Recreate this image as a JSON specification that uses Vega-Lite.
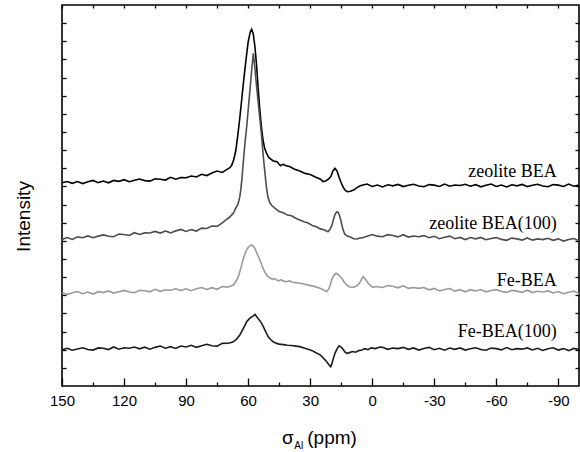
{
  "$schema": "https://vega.github.io/schema/vega-lite/v6.json",
  "width": 517,
  "height": 381,
  "autosize": "none",
  "padding": {"left": 62, "top": 5, "right": 1, "bottom": 66},
  "background": "white",
  "config": {
    "view": {"stroke": "#000", "strokeWidth": 1.6},
    "axis": {"grid": false, "domain": false, "tickColor": "#000", "tickWidth": 1.3, "labelFont": "Liberation Sans", "labelFontSize": 15, "labelColor": "#000", "titleFont": "Liberation Sans", "titleFontSize": 19, "titleFontWeight": "normal", "titleColor": "#000"}
  },
  "datasets": {
    "spec": [
      {"s":"BEA","x":150,"y":11.20},{"s":"BEA","x":147.5,"y":11.27},{"s":"BEA","x":145,"y":11.17},{"s":"BEA","x":142.5,"y":11.27},{"s":"BEA","x":140,"y":11.16},{"s":"BEA","x":137.5,"y":11.26},{"s":"BEA","x":135,"y":11.33},{"s":"BEA","x":132.5,"y":11.21},{"s":"BEA","x":130,"y":11.30},{"s":"BEA","x":127.5,"y":11.20},{"s":"BEA","x":125,"y":11.33},{"s":"BEA","x":122.5,"y":11.28},{"s":"BEA","x":120,"y":11.37},{"s":"BEA","x":117.5,"y":11.26},{"s":"BEA","x":115,"y":11.34},{"s":"BEA","x":112.5,"y":11.41},{"s":"BEA","x":110,"y":11.32},{"s":"BEA","x":107.5,"y":11.29},{"s":"BEA","x":105,"y":11.42},{"s":"BEA","x":102.5,"y":11.40},{"s":"BEA","x":100,"y":11.35},{"s":"BEA","x":97.5,"y":11.50},{"s":"BEA","x":95,"y":11.40},{"s":"BEA","x":92.5,"y":11.49},{"s":"BEA","x":90,"y":11.48},{"s":"BEA","x":87.5,"y":11.57},{"s":"BEA","x":85,"y":11.52},{"s":"BEA","x":82.5,"y":11.67},{"s":"BEA","x":80,"y":11.60},{"s":"BEA","x":77.5,"y":11.74},{"s":"BEA","x":75,"y":11.85},{"s":"BEA","x":72.5,"y":11.77},{"s":"BEA","x":70,"y":11.95},
      {"s":"BEA","x":69,"y":12.02},{"s":"BEA","x":68,"y":12.15},{"s":"BEA","x":67,"y":12.45},{"s":"BEA","x":66,"y":12.95},{"s":"BEA","x":65,"y":13.8},{"s":"BEA","x":64,"y":14.8},{"s":"BEA","x":63,"y":15.9},{"s":"BEA","x":62,"y":17.0},{"s":"BEA","x":61,"y":18.0},{"s":"BEA","x":60,"y":18.95},{"s":"BEA","x":59,"y":19.5},{"s":"BEA","x":58.3,"y":19.66},{"s":"BEA","x":57.5,"y":19.4},{"s":"BEA","x":56.7,"y":18.7},{"s":"BEA","x":56,"y":17.8},{"s":"BEA","x":55.2,"y":16.5},{"s":"BEA","x":54.4,"y":15.3},{"s":"BEA","x":53.6,"y":14.3},{"s":"BEA","x":52.8,"y":13.56},{"s":"BEA","x":52,"y":13.1},{"s":"BEA","x":51,"y":12.8},{"s":"BEA","x":50,"y":12.6},{"s":"BEA","x":49,"y":12.5},{"s":"BEA","x":48,"y":12.42},{"s":"BEA","x":47,"y":12.38},{"s":"BEA","x":46,"y":12.36},{"s":"BEA","x":45,"y":12.22},{"s":"BEA","x":44.3,"y":12.14},{"s":"BEA","x":43.5,"y":12.2},{"s":"BEA","x":42.8,"y":12.22},{"s":"BEA","x":42,"y":12.15},{"s":"BEA","x":40,"y":12.1},{"s":"BEA","x":37.5,"y":11.95},{"s":"BEA","x":35,"y":11.85},{"s":"BEA","x":32.5,"y":11.72},{"s":"BEA","x":30,"y":11.66},{"s":"BEA","x":27.5,"y":11.52},{"s":"BEA","x":25,"y":11.40},{"s":"BEA","x":23.8,"y":11.27},{"s":"BEA","x":22.5,"y":11.30},{"s":"BEA","x":21,"y":11.42},{"s":"BEA","x":20,"y":11.55},{"s":"BEA","x":19,"y":11.85},{"s":"BEA","x":18,"y":12.0},{"s":"BEA","x":17,"y":11.85},{"s":"BEA","x":16,"y":11.5},{"s":"BEA","x":15,"y":11.2},{"s":"BEA","x":14,"y":10.95},{"s":"BEA","x":13,"y":10.78},{"s":"BEA","x":12,"y":10.71},{"s":"BEA","x":10.5,"y":10.73},{"s":"BEA","x":9,"y":10.80},{"s":"BEA","x":7.5,"y":10.92},{"s":"BEA","x":6,"y":11.02},
      {"s":"BEA","x":5,"y":11.07},{"s":"BEA","x":2.5,"y":11.13},{"s":"BEA","x":0,"y":11.00},{"s":"BEA","x":-2.5,"y":11.08},{"s":"BEA","x":-5,"y":10.97},{"s":"BEA","x":-7.5,"y":11.09},{"s":"BEA","x":-10,"y":11.03},{"s":"BEA","x":-12.5,"y":11.11},{"s":"BEA","x":-15,"y":10.99},{"s":"BEA","x":-17.5,"y":11.06},{"s":"BEA","x":-20,"y":11.12},{"s":"BEA","x":-22.5,"y":11.02},{"s":"BEA","x":-25,"y":10.98},{"s":"BEA","x":-27.5,"y":11.10},{"s":"BEA","x":-30,"y":11.07},{"s":"BEA","x":-32.5,"y":11.00},{"s":"BEA","x":-35,"y":11.13},{"s":"BEA","x":-37.5,"y":11.01},{"s":"BEA","x":-40,"y":11.08},{"s":"BEA","x":-42.5,"y":11.05},{"s":"BEA","x":-45,"y":11.12},{"s":"BEA","x":-47.5,"y":11.01},{"s":"BEA","x":-50,"y":11.10},{"s":"BEA","x":-52.5,"y":10.98},{"s":"BEA","x":-55,"y":11.07},{"s":"BEA","x":-57.5,"y":11.13},{"s":"BEA","x":-60,"y":11.00},{"s":"BEA","x":-62.5,"y":11.08},{"s":"BEA","x":-65,"y":10.97},{"s":"BEA","x":-67.5,"y":11.09},{"s":"BEA","x":-70,"y":11.03},{"s":"BEA","x":-72.5,"y":11.11},{"s":"BEA","x":-75,"y":10.99},{"s":"BEA","x":-77.5,"y":11.06},{"s":"BEA","x":-80,"y":11.12},{"s":"BEA","x":-82.5,"y":11.02},{"s":"BEA","x":-85,"y":10.98},{"s":"BEA","x":-87.5,"y":11.10},{"s":"BEA","x":-90,"y":11.07},{"s":"BEA","x":-92.5,"y":11.00},{"s":"BEA","x":-95,"y":11.13},{"s":"BEA","x":-97.5,"y":11.01},{"s":"BEA","x":-100,"y":11.08},

      {"s":"BEA100","x":150,"y":8.08},{"s":"BEA100","x":147.5,"y":8.18},{"s":"BEA100","x":145,"y":8.08},{"s":"BEA100","x":142.5,"y":8.22},{"s":"BEA100","x":140,"y":8.17},{"s":"BEA100","x":137.5,"y":8.27},{"s":"BEA100","x":135,"y":8.17},{"s":"BEA100","x":132.5,"y":8.26},{"s":"BEA100","x":130,"y":8.33},{"s":"BEA100","x":127.5,"y":8.25},{"s":"BEA100","x":125,"y":8.23},{"s":"BEA100","x":122.5,"y":8.37},{"s":"BEA100","x":120,"y":8.35},{"s":"BEA100","x":117.5,"y":8.30},{"s":"BEA100","x":115,"y":8.45},{"s":"BEA100","x":112.5,"y":8.35},{"s":"BEA100","x":110,"y":8.44},{"s":"BEA100","x":107.5,"y":8.43},{"s":"BEA100","x":105,"y":8.52},{"s":"BEA100","x":102.5,"y":8.43},{"s":"BEA100","x":100,"y":8.54},{"s":"BEA100","x":97.5,"y":8.44},{"s":"BEA100","x":95,"y":8.55},{"s":"BEA100","x":92.5,"y":8.63},{"s":"BEA100","x":90,"y":8.52},{"s":"BEA100","x":87.5,"y":8.62},{"s":"BEA100","x":85,"y":8.54},{"s":"BEA100","x":82.5,"y":8.70},{"s":"BEA100","x":80,"y":8.68},{"s":"BEA100","x":77.5,"y":8.82},{"s":"BEA100","x":75,"y":8.80},{"s":"BEA100","x":72.5,"y":8.99},{"s":"BEA100","x":70,"y":9.22},
      {"s":"BEA100","x":69,"y":9.30},{"s":"BEA100","x":68,"y":9.42},{"s":"BEA100","x":67,"y":9.55},{"s":"BEA100","x":66,"y":9.80},{"s":"BEA100","x":65,"y":10.0},{"s":"BEA100","x":64.5,"y":10.2},{"s":"BEA100","x":64,"y":10.45},{"s":"BEA100","x":63.5,"y":10.85},{"s":"BEA100","x":63,"y":11.4},{"s":"BEA100","x":62.3,"y":12.4},{"s":"BEA100","x":61.5,"y":13.4},{"s":"BEA100","x":60.7,"y":14.29},{"s":"BEA100","x":59.9,"y":15.3},{"s":"BEA100","x":59.1,"y":16.32},{"s":"BEA100","x":58.3,"y":17.4},{"s":"BEA100","x":57.5,"y":18.34},{"s":"BEA100","x":56.7,"y":17.5},{"s":"BEA100","x":55.9,"y":16.5},{"s":"BEA100","x":55.1,"y":15.6},{"s":"BEA100","x":54.3,"y":14.7},{"s":"BEA100","x":53.5,"y":13.8},{"s":"BEA100","x":52.7,"y":12.7},{"s":"BEA100","x":52,"y":11.9},{"s":"BEA100","x":51.2,"y":11.0},{"s":"BEA100","x":50.4,"y":10.4},{"s":"BEA100","x":49.5,"y":10.1},{"s":"BEA100","x":48.5,"y":9.95},{"s":"BEA100","x":47.5,"y":9.85},{"s":"BEA100","x":46.2,"y":9.72},{"s":"BEA100","x":45,"y":9.62},{"s":"BEA100","x":43,"y":9.55},{"s":"BEA100","x":41,"y":9.42},{"s":"BEA100","x":39,"y":9.38},{"s":"BEA100","x":37,"y":9.25},{"s":"BEA100","x":35,"y":9.15},{"s":"BEA100","x":33,"y":9.05},{"s":"BEA100","x":31,"y":8.98},{"s":"BEA100","x":29,"y":8.85},{"s":"BEA100","x":27,"y":8.78},{"s":"BEA100","x":25,"y":8.66},{"s":"BEA100","x":23,"y":8.60},{"s":"BEA100","x":21.4,"y":8.50},{"s":"BEA100","x":20.5,"y":8.62},{"s":"BEA100","x":19.5,"y":8.85},{"s":"BEA100","x":18.8,"y":9.15},{"s":"BEA100","x":18,"y":9.45},{"s":"BEA100","x":17.2,"y":9.60},{"s":"BEA100","x":16.5,"y":9.58},{"s":"BEA100","x":15.8,"y":9.40},{"s":"BEA100","x":15,"y":9.05},{"s":"BEA100","x":14.2,"y":8.65},{"s":"BEA100","x":13.3,"y":8.38},{"s":"BEA100","x":12.3,"y":8.28},{"s":"BEA100","x":11,"y":8.22},{"s":"BEA100","x":10,"y":8.18},{"s":"BEA100","x":9,"y":8.12},{"s":"BEA100","x":7.5,"y":8.10},{"s":"BEA100","x":6,"y":8.16},
      {"s":"BEA100","x":5,"y":8.16},{"s":"BEA100","x":2.5,"y":8.26},{"s":"BEA100","x":0,"y":8.35},{"s":"BEA100","x":-2.5,"y":8.26},{"s":"BEA100","x":-5,"y":8.23},{"s":"BEA100","x":-7.5,"y":8.34},{"s":"BEA100","x":-10,"y":8.30},{"s":"BEA100","x":-12.5,"y":8.22},{"s":"BEA100","x":-15,"y":8.34},{"s":"BEA100","x":-17.5,"y":8.21},{"s":"BEA100","x":-20,"y":8.27},{"s":"BEA100","x":-22.5,"y":8.23},{"s":"BEA100","x":-25,"y":8.29},{"s":"BEA100","x":-27.5,"y":8.17},{"s":"BEA100","x":-30,"y":8.25},{"s":"BEA100","x":-32.5,"y":8.12},{"s":"BEA100","x":-35,"y":8.20},{"s":"BEA100","x":-37.5,"y":8.26},{"s":"BEA100","x":-40,"y":8.12},{"s":"BEA100","x":-42.5,"y":8.19},{"s":"BEA100","x":-45,"y":8.07},{"s":"BEA100","x":-47.5,"y":8.18},{"s":"BEA100","x":-50,"y":8.11},{"s":"BEA100","x":-52.5,"y":8.19},{"s":"BEA100","x":-55,"y":8.06},{"s":"BEA100","x":-57.5,"y":8.13},{"s":"BEA100","x":-60,"y":8.18},{"s":"BEA100","x":-62.5,"y":8.08},{"s":"BEA100","x":-65,"y":8.03},{"s":"BEA100","x":-67.5,"y":8.15},{"s":"BEA100","x":-70,"y":8.11},{"s":"BEA100","x":-72.5,"y":8.04},{"s":"BEA100","x":-75,"y":8.16},{"s":"BEA100","x":-77.5,"y":8.04},{"s":"BEA100","x":-80,"y":8.11},{"s":"BEA100","x":-82.5,"y":8.07},{"s":"BEA100","x":-85,"y":8.14},{"s":"BEA100","x":-87.5,"y":8.03},{"s":"BEA100","x":-90,"y":8.11},{"s":"BEA100","x":-92.5,"y":7.99},{"s":"BEA100","x":-95,"y":8.08},{"s":"BEA100","x":-97.5,"y":8.13},{"s":"BEA100","x":-100,"y":8.00},

      {"s":"FeBEA","x":150,"y":5.16},{"s":"FeBEA","x":147.5,"y":5.05},{"s":"FeBEA","x":145,"y":5.14},{"s":"FeBEA","x":142.5,"y":5.21},{"s":"FeBEA","x":140,"y":5.09},{"s":"FeBEA","x":137.5,"y":5.18},{"s":"FeBEA","x":135,"y":5.07},{"s":"FeBEA","x":132.5,"y":5.20},{"s":"FeBEA","x":130,"y":5.15},{"s":"FeBEA","x":127.5,"y":5.24},{"s":"FeBEA","x":125,"y":5.12},{"s":"FeBEA","x":122.5,"y":5.20},{"s":"FeBEA","x":120,"y":5.27},{"s":"FeBEA","x":117.5,"y":5.18},{"s":"FeBEA","x":115,"y":5.14},{"s":"FeBEA","x":112.5,"y":5.27},{"s":"FeBEA","x":110,"y":5.25},{"s":"FeBEA","x":107.5,"y":5.19},{"s":"FeBEA","x":105,"y":5.33},{"s":"FeBEA","x":102.5,"y":5.22},{"s":"FeBEA","x":100,"y":5.30},{"s":"FeBEA","x":97.5,"y":5.28},{"s":"FeBEA","x":95,"y":5.36},{"s":"FeBEA","x":92.5,"y":5.26},{"s":"FeBEA","x":90,"y":5.36},{"s":"FeBEA","x":87.5,"y":5.25},{"s":"FeBEA","x":85,"y":5.36},{"s":"FeBEA","x":82.5,"y":5.43},{"s":"FeBEA","x":80,"y":5.32},{"s":"FeBEA","x":77.5,"y":5.42},{"s":"FeBEA","x":75,"y":5.33},{"s":"FeBEA","x":72.5,"y":5.48},{"s":"FeBEA","x":70,"y":5.45},
      {"s":"FeBEA","x":68.5,"y":5.50},{"s":"FeBEA","x":67,"y":5.58},{"s":"FeBEA","x":65.5,"y":5.84},{"s":"FeBEA","x":64.5,"y":6.10},{"s":"FeBEA","x":63.5,"y":6.50},{"s":"FeBEA","x":62.5,"y":6.95},{"s":"FeBEA","x":61.5,"y":7.30},{"s":"FeBEA","x":60.5,"y":7.55},{"s":"FeBEA","x":59.5,"y":7.70},{"s":"FeBEA","x":58.3,"y":7.77},{"s":"FeBEA","x":57.3,"y":7.70},{"s":"FeBEA","x":56.5,"y":7.52},{"s":"FeBEA","x":55.5,"y":7.25},{"s":"FeBEA","x":54.3,"y":6.95},{"s":"FeBEA","x":53.5,"y":6.70},{"s":"FeBEA","x":52.8,"y":6.50},{"s":"FeBEA","x":51.9,"y":6.28},{"s":"FeBEA","x":51,"y":6.12},{"s":"FeBEA","x":50,"y":6.00},{"s":"FeBEA","x":49,"y":5.92},{"s":"FeBEA","x":48,"y":5.88},{"s":"FeBEA","x":47,"y":5.92},{"s":"FeBEA","x":46.2,"y":5.84},{"s":"FeBEA","x":45,"y":5.80},{"s":"FeBEA","x":44,"y":5.86},{"s":"FeBEA","x":43,"y":5.78},{"s":"FeBEA","x":41.5,"y":5.75},{"s":"FeBEA","x":40,"y":5.79},{"s":"FeBEA","x":38.5,"y":5.72},{"s":"FeBEA","x":37,"y":5.70},{"s":"FeBEA","x":35,"y":5.66},{"s":"FeBEA","x":33,"y":5.62},{"s":"FeBEA","x":31,"y":5.56},{"s":"FeBEA","x":29,"y":5.52},{"s":"FeBEA","x":27,"y":5.45},{"s":"FeBEA","x":25.2,"y":5.39},{"s":"FeBEA","x":23.5,"y":5.30},{"s":"FeBEA","x":22,"y":5.20},{"s":"FeBEA","x":21,"y":5.35},{"s":"FeBEA","x":20.2,"y":5.60},{"s":"FeBEA","x":19.5,"y":5.88},{"s":"FeBEA","x":18.5,"y":6.10},{"s":"FeBEA","x":17.5,"y":6.21},{"s":"FeBEA","x":16.5,"y":6.15},{"s":"FeBEA","x":15.5,"y":6.02},{"s":"FeBEA","x":14.7,"y":5.94},{"s":"FeBEA","x":13.5,"y":5.72},{"s":"FeBEA","x":12.3,"y":5.57},{"s":"FeBEA","x":11,"y":5.46},{"s":"FeBEA","x":9.1,"y":5.44},{"s":"FeBEA","x":7.8,"y":5.50},{"s":"FeBEA","x":6.2,"y":5.66},{"s":"FeBEA","x":5.2,"y":5.88},{"s":"FeBEA","x":4.3,"y":6.03},{"s":"FeBEA","x":3.4,"y":5.90},{"s":"FeBEA","x":1.9,"y":5.66},{"s":"FeBEA","x":0.5,"y":5.50},{"s":"FeBEA","x":-0.5,"y":5.44},{"s":"FeBEA","x":-2,"y":5.48},
      {"s":"FeBEA","x":-5,"y":5.43},{"s":"FeBEA","x":-7.5,"y":5.54},{"s":"FeBEA","x":-10,"y":5.50},{"s":"FeBEA","x":-12.5,"y":5.41},{"s":"FeBEA","x":-15,"y":5.52},{"s":"FeBEA","x":-17.5,"y":5.38},{"s":"FeBEA","x":-20,"y":5.43},{"s":"FeBEA","x":-22.5,"y":5.38},{"s":"FeBEA","x":-25,"y":5.43},{"s":"FeBEA","x":-27.5,"y":5.30},{"s":"FeBEA","x":-30,"y":5.38},{"s":"FeBEA","x":-32.5,"y":5.24},{"s":"FeBEA","x":-35,"y":5.32},{"s":"FeBEA","x":-37.5,"y":5.37},{"s":"FeBEA","x":-40,"y":5.23},{"s":"FeBEA","x":-42.5,"y":5.31},{"s":"FeBEA","x":-45,"y":5.19},{"s":"FeBEA","x":-47.5,"y":5.31},{"s":"FeBEA","x":-50,"y":5.24},{"s":"FeBEA","x":-52.5,"y":5.32},{"s":"FeBEA","x":-55,"y":5.19},{"s":"FeBEA","x":-57.5,"y":5.26},{"s":"FeBEA","x":-60,"y":5.31},{"s":"FeBEA","x":-62.5,"y":5.21},{"s":"FeBEA","x":-65,"y":5.16},{"s":"FeBEA","x":-67.5,"y":5.27},{"s":"FeBEA","x":-70,"y":5.23},{"s":"FeBEA","x":-72.5,"y":5.16},{"s":"FeBEA","x":-75,"y":5.28},{"s":"FeBEA","x":-77.5,"y":5.15},{"s":"FeBEA","x":-80,"y":5.22},{"s":"FeBEA","x":-82.5,"y":5.18},{"s":"FeBEA","x":-85,"y":5.24},{"s":"FeBEA","x":-87.5,"y":5.13},{"s":"FeBEA","x":-90,"y":5.21},{"s":"FeBEA","x":-92.5,"y":5.09},{"s":"FeBEA","x":-95,"y":5.17},{"s":"FeBEA","x":-97.5,"y":5.23},{"s":"FeBEA","x":-100,"y":5.09},

      {"s":"FeBEA100","x":150,"y":2.00},{"s":"FeBEA100","x":147.5,"y":2.08},{"s":"FeBEA100","x":145,"y":1.97},{"s":"FeBEA100","x":142.5,"y":2.04},{"s":"FeBEA100","x":140,"y":2.11},{"s":"FeBEA100","x":137.5,"y":2.01},{"s":"FeBEA100","x":135,"y":1.98},{"s":"FeBEA100","x":132.5,"y":2.10},{"s":"FeBEA100","x":130,"y":2.08},{"s":"FeBEA100","x":127.5,"y":2.01},{"s":"FeBEA100","x":125,"y":2.15},{"s":"FeBEA100","x":122.5,"y":2.03},{"s":"FeBEA100","x":120,"y":2.11},{"s":"FeBEA100","x":117.5,"y":2.08},{"s":"FeBEA100","x":115,"y":2.15},{"s":"FeBEA100","x":112.5,"y":2.05},{"s":"FeBEA100","x":110,"y":2.14},{"s":"FeBEA100","x":107.5,"y":2.03},{"s":"FeBEA100","x":105,"y":2.13},{"s":"FeBEA100","x":102.5,"y":2.20},{"s":"FeBEA100","x":100,"y":2.08},{"s":"FeBEA100","x":97.5,"y":2.17},{"s":"FeBEA100","x":95,"y":2.07},{"s":"FeBEA100","x":92.5,"y":2.20},{"s":"FeBEA100","x":90,"y":2.15},{"s":"FeBEA100","x":87.5,"y":2.24},{"s":"FeBEA100","x":85,"y":2.13},{"s":"FeBEA100","x":82.5,"y":2.22},{"s":"FeBEA100","x":80,"y":2.30},{"s":"FeBEA100","x":77.5,"y":2.22},{"s":"FeBEA100","x":75,"y":2.20},{"s":"FeBEA100","x":72.5,"y":2.35},{"s":"FeBEA100","x":70,"y":2.36},
      {"s":"FeBEA100","x":68.5,"y":2.38},{"s":"FeBEA100","x":67,"y":2.45},{"s":"FeBEA100","x":65.5,"y":2.60},{"s":"FeBEA100","x":64,"y":2.81},{"s":"FeBEA100","x":63,"y":3.02},{"s":"FeBEA100","x":62,"y":3.25},{"s":"FeBEA100","x":60.7,"y":3.54},{"s":"FeBEA100","x":59.5,"y":3.70},{"s":"FeBEA100","x":58.6,"y":3.78},{"s":"FeBEA100","x":57.5,"y":3.86},{"s":"FeBEA100","x":56.7,"y":3.94},{"s":"FeBEA100","x":56,"y":3.84},{"s":"FeBEA100","x":55.2,"y":3.72},{"s":"FeBEA100","x":54.3,"y":3.60},{"s":"FeBEA100","x":53.4,"y":3.44},{"s":"FeBEA100","x":52.6,"y":3.26},{"s":"FeBEA100","x":51.8,"y":3.07},{"s":"FeBEA100","x":51,"y":2.88},{"s":"FeBEA100","x":50.2,"y":2.70},{"s":"FeBEA100","x":49,"y":2.55},{"s":"FeBEA100","x":48,"y":2.45},{"s":"FeBEA100","x":47,"y":2.38},{"s":"FeBEA100","x":46.2,"y":2.35},{"s":"FeBEA100","x":45,"y":2.31},{"s":"FeBEA100","x":43,"y":2.28},{"s":"FeBEA100","x":41,"y":2.25},{"s":"FeBEA100","x":39,"y":2.23},{"s":"FeBEA100","x":37,"y":2.20},{"s":"FeBEA100","x":35,"y":2.17},{"s":"FeBEA100","x":33,"y":2.10},{"s":"FeBEA100","x":31,"y":2.03},{"s":"FeBEA100","x":29,"y":1.95},{"s":"FeBEA100","x":27,"y":1.82},{"s":"FeBEA100","x":25,"y":1.70},{"s":"FeBEA100","x":23.5,"y":1.52},{"s":"FeBEA100","x":22,"y":1.34},{"s":"FeBEA100","x":21,"y":1.18},{"s":"FeBEA100","x":20.1,"y":1.06},{"s":"FeBEA100","x":19.5,"y":1.22},{"s":"FeBEA100","x":19,"y":1.43},{"s":"FeBEA100","x":18.4,"y":1.66},{"s":"FeBEA100","x":18,"y":1.80},{"s":"FeBEA100","x":17,"y":2.05},{"s":"FeBEA100","x":16,"y":2.22},{"s":"FeBEA100","x":15,"y":2.15},{"s":"FeBEA100","x":14.1,"y":2.02},{"s":"FeBEA100","x":13.2,"y":1.88},{"s":"FeBEA100","x":12.3,"y":1.80},{"s":"FeBEA100","x":11,"y":1.84},{"s":"FeBEA100","x":9.5,"y":1.90},{"s":"FeBEA100","x":8,"y":1.86},{"s":"FeBEA100","x":6.5,"y":1.95},{"s":"FeBEA100","x":5,"y":1.98},{"s":"FeBEA100","x":3.5,"y":2.06},{"s":"FeBEA100","x":2,"y":2.00},{"s":"FeBEA100","x":0.5,"y":2.10},{"s":"FeBEA100","x":-1.5,"y":2.06},{"s":"FeBEA100","x":-3.8,"y":2.15},
      {"s":"FeBEA100","x":-5,"y":2.14},{"s":"FeBEA100","x":-7.5,"y":2.02},{"s":"FeBEA100","x":-10,"y":2.09},{"s":"FeBEA100","x":-12.5,"y":2.06},{"s":"FeBEA100","x":-15,"y":2.13},{"s":"FeBEA100","x":-17.5,"y":2.02},{"s":"FeBEA100","x":-20,"y":2.10},{"s":"FeBEA100","x":-22.5,"y":1.98},{"s":"FeBEA100","x":-25,"y":2.07},{"s":"FeBEA100","x":-27.5,"y":2.13},{"s":"FeBEA100","x":-30,"y":2.00},{"s":"FeBEA100","x":-32.5,"y":2.08},{"s":"FeBEA100","x":-35,"y":1.97},{"s":"FeBEA100","x":-37.5,"y":2.09},{"s":"FeBEA100","x":-40,"y":2.02},{"s":"FeBEA100","x":-42.5,"y":2.10},{"s":"FeBEA100","x":-45,"y":1.98},{"s":"FeBEA100","x":-47.5,"y":2.05},{"s":"FeBEA100","x":-50,"y":2.11},{"s":"FeBEA100","x":-52.5,"y":2.01},{"s":"FeBEA100","x":-55,"y":1.97},{"s":"FeBEA100","x":-57.5,"y":2.09},{"s":"FeBEA100","x":-60,"y":2.06},{"s":"FeBEA100","x":-62.5,"y":1.99},{"s":"FeBEA100","x":-65,"y":2.12},{"s":"FeBEA100","x":-67.5,"y":2.00},{"s":"FeBEA100","x":-70,"y":2.06},{"s":"FeBEA100","x":-72.5,"y":2.03},{"s":"FeBEA100","x":-75,"y":2.10},{"s":"FeBEA100","x":-77.5,"y":1.99},{"s":"FeBEA100","x":-80,"y":2.08},{"s":"FeBEA100","x":-82.5,"y":1.96},{"s":"FeBEA100","x":-85,"y":2.05},{"s":"FeBEA100","x":-87.5,"y":2.11},{"s":"FeBEA100","x":-90,"y":1.98},{"s":"FeBEA100","x":-92.5,"y":2.06},{"s":"FeBEA100","x":-95,"y":1.95},{"s":"FeBEA100","x":-97.5,"y":2.07},{"s":"FeBEA100","x":-100,"y":2.01}
    ],
    "labels": [
      {"label": "zeolite BEA", "x": -89.2, "y": 11.54},
      {"label": "zeolite BEA(100)", "x": -89.2, "y": 8.64},
      {"label": "Fe-BEA", "x": -89.2, "y": 5.51},
      {"label": "Fe-BEA(100)", "x": -89.2, "y": 2.68}
    ]
  },
  "layer": [
    {
      "data": {"name": "spec"},
      "mark": {"type": "line", "strokeWidth": 1.6},
      "encoding": {
        "x": {
          "field": "x", "type": "quantitative",
          "scale": {"domain": [-100, 150], "reverse": true, "nice": false, "zero": false},
          "axis": {"orient": "bottom", "values": [150, 120, 90, 60, 30, 0, -30, -60, -90], "labelExpr": "'' + datum.value", "tickSize": -8, "labelPadding": 15, "labelFlush": false, "labelOverlap": false, "title": null}
        },
        "y": {
          "field": "y", "type": "quantitative",
          "scale": {"domain": [0, 21], "nice": false, "zero": false},
          "axis": {"orient": "left", "values": [1,2,3,4,5,6,7,8,9,10,11,12,13,14,15,16,17,18,19,20], "tickSize": -4, "labels": false, "title": "Intensity", "titleAngle": 270, "titleX": -33, "titleY": 211, "titleAlign": "center", "titleBaseline": "alphabetic"}
        },
        "color": {
          "field": "s", "type": "nominal",
          "scale": {"domain": ["BEA", "BEA100", "FeBEA", "FeBEA100"], "range": ["#000000", "#4d4d4d", "#9a9a9a", "#1c1c1c"]},
          "legend": null
        }
      }
    },
    {
      "data": {"name": "labels"},
      "mark": {"type": "text", "font": "Liberation Serif", "fontSize": 18, "align": "right", "baseline": "alphabetic", "color": "#000"},
      "encoding": {
        "x": {"field": "x", "type": "quantitative", "axis": {"orient": "bottom", "values": [135, 105, 75, 45, 15, -15, -45, -75], "tickSize": -4, "labels": false, "title": null}},
        "y": {"field": "y", "type": "quantitative", "axis": {"orient": "right", "values": [1,2,3,4,5,6,7,8,9,10,11,12,13,14,15,16,17,18,19,20], "tickSize": -4, "labels": false, "title": null}},
        "text": {"field": "label"}
      }
    },
    {
      "data": {"values": [{"sub": "Al"}]},
      "mark": {"type": "text", "font": "Liberation Sans", "fontSize": 10, "align": "left", "baseline": "alphabetic", "color": "#000"},
      "encoding": {
        "x": {"datum": 37.7, "type": "quantitative", "axis": {"orient": "top", "values": [150, 135, 120, 105, 90, 75, 60, 45, 30, 15, 0, -15, -30, -45, -60, -75, -90], "tickSize": -3, "labels": false, "title": null}},
        "y": {"datum": -3.47, "type": "quantitative", "axis": null},
        "text": {"field": "sub"}
      }
    },
    {
      "data": {"values": [{"t": "σ"}]},
      "mark": {"type": "text", "font": "Liberation Sans", "fontSize": 19, "align": "right", "baseline": "alphabetic", "color": "#000"},
      "encoding": {
        "x": {"datum": 38.0, "type": "quantitative", "axis": null},
        "y": {"datum": -3.2, "type": "quantitative", "axis": null},
        "text": {"field": "t"}
      }
    },
    {
      "data": {"values": [{"t": "(ppm)"}]},
      "mark": {"type": "text", "font": "Liberation Sans", "fontSize": 19, "align": "left", "baseline": "alphabetic", "color": "#000"},
      "encoding": {
        "x": {"datum": 31.4, "type": "quantitative", "axis": null},
        "y": {"datum": -3.2, "type": "quantitative", "axis": null},
        "text": {"field": "t"}
      }
    }
  ],
  "resolve": {"axis": {"x": "independent", "y": "independent"}}
}
